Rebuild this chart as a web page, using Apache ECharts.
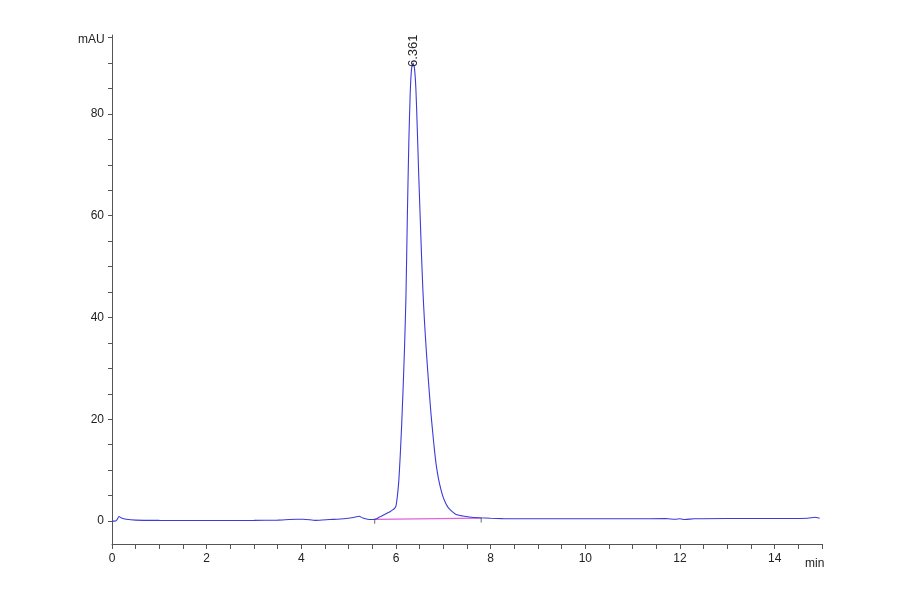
<!DOCTYPE html>
<html>
<head>
<meta charset="utf-8">
<script src="https://cdn.jsdelivr.net/npm/echarts@6/dist/echarts.min.js"></script>
<style>html,body{margin:0;padding:0;background:#fff;}#c{width:900px;height:594px;}</style>
</head>
<body>
<div id="c"></div>
<script>
// Retention time (min) and absorbance (mAU)
const times = [0.00,0.05,0.10,0.15,0.20,0.30,0.50,1.00,2.00,3.00,3.50,3.90,4.05,4.30,4.60,4.90,5.10,5.22,5.30,5.40,5.50,
  5.55,5.60,5.65,5.70,5.76,5.82,5.88,5.93,5.97,6.00,6.03,6.06,6.09,6.12,6.15,6.18,6.21,6.24,6.27,6.30,6.33,6.361,
  6.39,6.42,6.45,6.48,6.51,6.54,6.57,6.60,6.64,6.67,6.71,6.74,6.78,6.81,6.85,6.90,6.955,7.00,7.05,7.10,7.17,7.27,7.41,7.55,7.76,8.00,8.25,
  8.5,9.0,10.0,11.0,11.7,11.9,12.0,12.1,12.3,13.0,14.0,14.7,14.85,14.95];
const values = [0.0,0.0,0.2,0.9,0.6,0.35,0.2,0.15,0.12,0.15,0.2,0.35,0.35,0.15,0.3,0.45,0.7,0.95,0.6,0.35,0.3,
  0.35,0.5,0.8,1.0,1.3,1.6,1.9,2.2,2.5,3.0,5.0,8.0,13,19,26,34,44,60,74,84,89,90,
  89,85,77,68,60,52,45,39.5,33.5,29.5,24.5,21,17,14.2,11,8.2,6.0,4.6,3.5,2.7,2.0,1.3,1.0,0.8,0.65,0.55,0.48,
  0.45,0.45,0.45,0.45,0.5,0.35,0.45,0.3,0.45,0.5,0.5,0.55,0.75,0.55];
// Integration baseline of the main peak
const baseTimes = [5.55, 7.80];
const baseValues = [0.35, 0.6];
// Peak annotation
const peakTime = 6.361;
const peakValue = 90;
const peakLabel = '6.361';
// Axis ticks and labels
const xLabels = [0,2,4,6,8,10,12,14];
const xTicks = [0,0.5,1,1.5,2,2.5,3,3.5,4,4.5,5,5.5,6,6.5,7,7.5,8,8.5,9,9.5,10,10.5,11,11.5,12,12.5,13,13.5,14,14.5,15];
const yLabels = [0,20,40,60,80];
const yTicks = [0,5,10,15,20,25,30,35,40,45,50,55,60,65,70,75,80,85,90,95];

const trace = times.map((t,i)=>[t, values[i]]);
const base = baseTimes.map((t,i)=>[t, baseValues[i]]);

const chart = echarts.init(document.getElementById('c'), null, {renderer:'canvas'});
const axisColor = '#555';
const font = 'Liberation Sans, Arial, sans-serif';
chart.setOption({
  animation:false,
  backgroundColor:'#fff',
  grid:{left:112,right:78,top:35,bottom:50,containLabel:false},
  xAxis:{
    type:'value',min:0,max:15,
    axisLine:{show:true,onZero:false,lineStyle:{color:axisColor,width:1}},
    axisTick:{show:true,customValues:xTicks,length:5,lineStyle:{color:axisColor}},
    axisLabel:{customValues:xLabels,fontSize:12,color:'#222',fontFamily:font,margin:9},
    splitLine:{show:false}
  },
  yAxis:{
    type:'value',min:-4.5,max:95.5,
    axisLine:{show:true,onZero:false,lineStyle:{color:axisColor,width:1}},
    axisTick:{show:true,customValues:yTicks,length:4,lineStyle:{color:axisColor}},
    axisLabel:{customValues:yLabels,fontSize:12,color:'#222',fontFamily:font,margin:8},
    splitLine:{show:false}
  },
  series:[
    {type:'line',data:base,symbol:'none',lineStyle:{color:'#e060e0',width:1.2},z:2},
    {type:'line',data:trace,symbol:'none',smooth:0.2,lineStyle:{color:'#3b3bd8',width:1.1},z:3},
    {type:'scatter',data:base.map(p=>[p[0],p[1]-0.4]),symbol:'rect',symbolSize:[1,5],itemStyle:{color:'#444'},z:4}
  ]
});
const pk = chart.convertToPixel({gridIndex:0},[peakTime,peakValue]);
chart.setOption({
  graphic:[
    {type:'text',left:78,top:34,style:{text:'mAU',fontSize:12,fill:'#222',fontFamily:font}},
    {type:'text',left:805,top:558,style:{text:'min',fontSize:12,fill:'#222',fontFamily:font}},
    {type:'text',x:pk[0],y:pk[1]+4,rotation:Math.PI/2,z:10,
     style:{text:peakLabel,fontSize:13,fill:'#222',fontFamily:font,align:'left',verticalAlign:'middle'}}
  ]
});
</script>
</body>
</html>
